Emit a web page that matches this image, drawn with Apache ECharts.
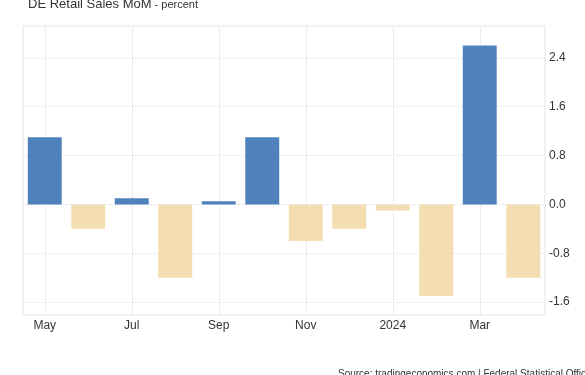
<!DOCTYPE html>
<html>
<head>
<meta charset="utf-8">
<script src="https://cdn.jsdelivr.net/npm/echarts@6/dist/echarts.min.js"></script>
<style>
  html, body { margin: 0; padding: 0; background: #fff; }
  #chart { width: 585px; height: 375px; }
</style>
</head>
<body>
<div id="chart"></div>
<script>
// months May 2023 .. Apr 2024
var months = ['May', 'Jun', 'Jul', 'Aug', 'Sep', 'Oct', 'Nov', 'Dec', '2024', 'Feb', 'Mar', 'Apr'];
var salesMoM = [1.1, -0.4, 0.1, -1.2, 0.05, 1.1, -0.6, -0.4, -0.1, -1.5, 2.6, -1.2];
var yTicks = [-1.6, -0.8, 0, 0.8, 1.6, 2.4];

var chart = echarts.init(document.getElementById('chart'));

var option = {
    animation: false,
    textStyle: { fontFamily: 'Liberation Sans, Arial, sans-serif' },
    title: {
        left: 23,
        top: -7,
        text: '{a|DE Retail Sales MoM}{b| - percent}',
        textStyle: {
            fontWeight: 'normal',
            rich: {
                a: { fontSize: 13, color: '#333', fontWeight: 'normal' },
                b: { fontSize: 11, color: '#333', fontWeight: 'normal' }
            }
        }
    },
    grid: {
        left: 23,
        right: 40,
        top: 26,
        bottom: 60,
        show: true,
        borderColor: '#e4e4e4',
        borderWidth: 1
    },
    xAxis: {
        type: 'category',
        data: months,
        axisLine: { show: false },
        axisTick: { show: false },
        axisLabel: {
            interval: 1,
            color: '#333',
            fontSize: 12,
            margin: 5
        },
        splitLine: {
            show: true,
            interval: 1,
            alignWithLabel: true,
            lineStyle: { color: '#ececec', width: 1 }
        }
    },
    yAxis: {
        type: 'value',
        position: 'right',
        min: -1.81,
        max: 2.92,
        axisLine: { show: false },
        axisTick: { show: false, customValues: yTicks },
        axisLabel: {
            customValues: yTicks,
            color: '#333',
            fontSize: 12,
            margin: 4,
            formatter: function (v) { return v.toFixed(1); }
        },
        splitLine: {
            show: true,
            lineStyle: { color: '#e2e2e2', type: 'dotted', width: 1 }
        }
    },
    series: [{
        type: 'bar',
        data: salesMoM.map(function (v) {
            return {
                value: v,
                itemStyle: { color: v >= 0 ? '#4f81bd' : '#f4ddb1' }
            };
        }),
        barCategoryGap: '22%'
    }],
    graphic: [{
        type: 'text',
        left: 338,
        top: 369,
        style: {
            text: 'Source: tradingeconomics.com | Federal Statistical Office',
            fontSize: 10,
            fill: '#333',
            fontFamily: 'Liberation Sans, Arial, sans-serif'
        }
    }]
};

chart.setOption(option);
</script>
</body>
</html>
